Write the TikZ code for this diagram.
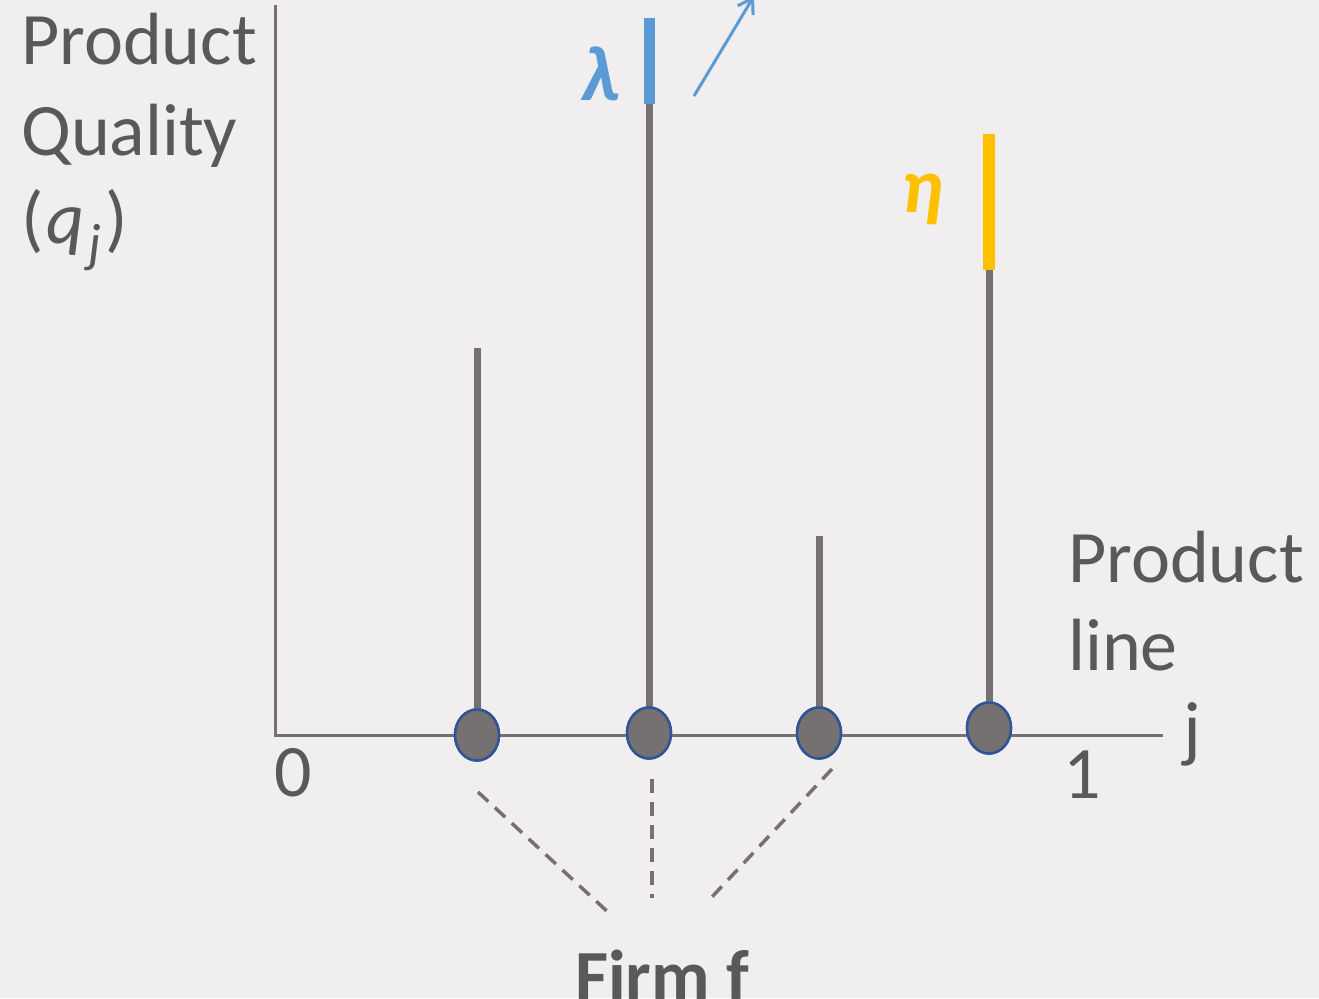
\documentclass[tikz,border=0pt]{standalone}
\usepackage{fontspec}
\setmainfont{Carlito}
\usetikzlibrary{arrows.meta,shapes.geometric}
\definecolor{bg}{HTML}{F0EEEF}
\definecolor{axisgray}{HTML}{767171}
\definecolor{txtgray}{HTML}{595959}
\definecolor{lamblue}{HTML}{5B9BD5}
\definecolor{etayel}{HTML}{FFC000}
\definecolor{rimblue}{HTML}{2F5597}
\tikzset{
  axisline/.style={draw=axisgray,line width=3pt},
  stem/.style={draw=axisgray,line width=7pt},
  dot/.style={ellipse,draw=rimblue,line width=2.5pt,fill=axisgray,minimum width=44pt,minimum height=51pt,inner sep=0pt},
  bigtxt/.style={text=txtgray,inner sep=0pt,font=\fontsize{74}{88}\selectfont},
  firmdash/.style={draw=axisgray,line width=3.5pt,dash pattern=on 14pt off 9pt},
}
\begin{document}
\begin{tikzpicture}[x=1pt,y=-1pt]
\useasboundingbox (0,0) rectangle (1319,998);
\fill[bg] (0,0) rectangle (1319,998);
% axes
\coordinate (ytop) at (275,5);
\coordinate (orig) at (275,735);
\coordinate (xend) at (1163,735);
\draw[axisline] (ytop) -- (orig) -- (xend);
% stem tops
\coordinate (t1) at (478,348);
\coordinate (t2) at (649,100);
\coordinate (t3) at (820,536);
\coordinate (t4) at (991,268);
\coordinate (b2) at (649,18);
\coordinate (b4) at (991,134);
% dots
\node[dot] (d1) at (477,735) {};
\node[dot] (d2) at (649,733) {};
\node[dot] (d3) at (819,733) {};
\node[dot] (d4) at (989,728) {};
\draw[stem] (d1.center) -- (d1.center |- t1);
\draw[stem] (d2.center) -- (d2.center |- t2);
\draw[stem] (d3.center) -- (d3.center |- t3);
\draw[stem] (d4.center) -- (d4.center |- t4);
\draw[draw=lamblue,line width=11pt] (d2.center |- t2) ++(0,4) -- (d2.center |- b2);
\draw[draw=etayel,line width=12pt] (d4.center |- t4) ++(0,2) -- (d4.center |- b4);
% redraw dots on top
\node[dot] at (d1) {};
\node[dot] at (d2) {};
\node[dot] at (d3) {};
\node[dot] at (d4) {};
% blue arrow
\coordinate (a1) at (694,96);
\coordinate (a2) at (754,-4);
\draw[draw=lamblue,line width=3pt,-{Straight Barb[length=14pt,width=18pt]}] (a1) -- (a2);
% greek labels
\node[text=lamblue,inner sep=0pt,anchor=base,font=\fontsize{78}{80}\selectfont\itshape\bfseries] (lam) at (600,100) {λ};
\node[text=etayel,inner sep=0pt,anchor=base,font=\fontsize{78}{80}\selectfont\itshape\bfseries] (eta) at (922,212) {η};
% axis labels
\node[bigtxt,anchor=base west] (yl1) at (21,65) {Product};
\node[bigtxt,anchor=base west] (yl2) at (21,155) {Quality};
\node[bigtxt,anchor=base west] (yl3) at (21,243) {(\kern3pt\textit{q}\kern4pt\raisebox{-18pt}{\fontsize{54}{54}\selectfont\textit{j}}\kern4pt)};
\node[bigtxt,anchor=base west] (xl1) at (1068,582) {Product};
\node[bigtxt,anchor=base west] (xl2) at (1068,670) {line};
\node[bigtxt,anchor=base west] (jl) at (1183,753) {j};
\node[bigtxt,anchor=base] (zero) at (293,796) {0};
\node[bigtxt,anchor=base] (one) at (1082,798) {1};
% firm
\node[bigtxt,anchor=base,font=\fontsize{72}{80}\selectfont\bfseries] (firm) at (662,1000) {Firm f};
\coordinate (f1a) at (478,792);
\coordinate (f1b) at (610,914);
\coordinate (f2a) at (652,779);
\coordinate (f2b) at (652,898);
\coordinate (f3a) at (832,769);
\coordinate (f3b) at (710,899);
\draw[firmdash] (f1a) -- (f1b);
\draw[firmdash] (f2a) -- (f2b);
\draw[firmdash] (f3a) -- (f3b);
\end{tikzpicture}
\end{document}
